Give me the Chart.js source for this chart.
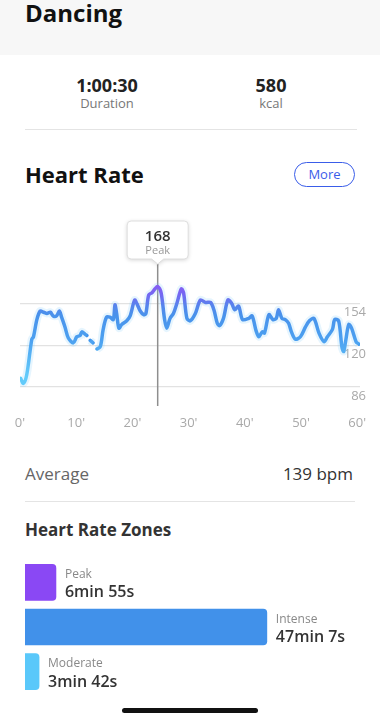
<!DOCTYPE html>
<html>
<head>
<meta charset="utf-8">
<script src="https://cdn.jsdelivr.net/npm/chart.js@4.4.1/dist/chart.umd.min.js"></script>
<style>
  body { margin: 0; width: 380px; height: 720px; position: relative; overflow: hidden; background: #fff; font-family: "Open Sans", sans-serif; color: #222; }
  .t { position: absolute; line-height: 1; white-space: nowrap; }
  .c { width: 200px; text-align: center; }
  .head { position: absolute; left: 0; top: 0; width: 380px; height: 55px; background: #f7f7f7; }
  .rule { position: absolute; height: 1px; background: #e4e4e4; }
  .more { position: absolute; left: 294px; top: 162px; width: 59px; height: 23px; border: 1.3px solid #3a5de9; border-radius: 13px; color: #3a5de9; font-size: 13px; line-height: 23px; text-align: center; }
  .home { position: absolute; left: 122px; top: 708px; width: 136px; height: 5px; border-radius: 3px; background: #111; }
  #hr { position: absolute; left: 0; top: 200px; }
  #zones { position: absolute; left: 0; top: 560px; }
</style>
</head>
<body>
<div class="head"></div>
<div class="t" style="left:25px;top:1px;font-size:24px;font-weight:700;color:#111">Dancing</div>

<div class="t c" style="left:7px;top:76px;font-size:18px;font-weight:700;color:#222">1:00:30</div>
<div class="t c" style="left:7px;top:97px;font-size:13px;color:#777">Duration</div>
<div class="t c" style="left:171px;top:76px;font-size:18px;font-weight:700;color:#222">580</div>
<div class="t c" style="left:171px;top:97px;font-size:13px;color:#777">kcal</div>
<div class="rule" style="left:25px;top:129px;width:332px"></div>

<div class="t" style="left:25px;top:163px;font-size:22px;font-weight:700;color:#111">Heart Rate</div>
<div class="more">More</div>

<canvas id="hr" width="380" height="230"></canvas>

<div class="t" style="left:25px;top:465px;font-size:17px;color:#666">Average</div>
<div class="t" style="right:27px;top:465px;font-size:17px;color:#333">139 bpm</div>
<div class="rule" style="left:25px;top:501px;width:330px"></div>
<div class="t" style="left:25px;top:521px;font-size:17px;font-weight:700;color:#333">Heart Rate Zones</div>

<canvas id="zones" width="380" height="134"></canvas>
<div class="home"></div>

<script>
// heart rate over the session (minutes, bpm); null = sensor gap
const minutes = [0.1, 0.6, 1.2, 2.1, 2.4, 3.0, 3.6, 4.2, 4.8, 5.4,
  5.9, 6.5, 7.0, 7.4, 8.0, 8.6, 9.5, 10.1, 10.7, 11.0,
  11.6, 11.9, 12.2, 12.5, 13.0, 13.4, 13.7, 14.3, 14.8, 15.4,
  16.0, 16.6, 16.9, 17.2, 17.6, 18.1, 19.0, 19.6, 20.4, 20.8,
  21.4, 22.0, 22.4, 22.9, 23.5, 24.0, 24.5, 25.1, 25.7, 26.1,
  26.7, 27.3, 27.9, 28.7, 29.1, 29.7, 30.3, 31.2, 32.1, 33.0,
  33.9, 34.5, 35.1, 35.5, 36.2, 37.0, 37.7, 38.2, 38.9, 39.6,
  40.7, 41.3, 42.0, 42.5, 43.1, 43.5, 44.3, 45.0, 45.6, 46.0,
  46.6, 47.2, 47.8, 48.3, 49.0, 49.9, 50.8, 51.5, 52.3, 53.2,
  54.1, 54.7, 55.6, 56.0, 56.7, 57.3, 57.6, 58.0, 58.5, 59.0,
  59.8, 60.3];
const bpm = [93, 89, 96, 125, 127, 141, 148, 147, 146, 147,
  144, 144, 148, 143, 135, 126, 122, 127, 128, 131,
  129, 128, null, 124, 122, null, 117, 119, 133, 143,
  143, 141, 153, 146, 134, 137, 140, 144, 157, 154,
  148, 145, 146, 161, 163, 166, 168, 163, 142, 134,
  142, 146, 154, 166, 163, 142, 140, 146, 157, 155,
  155, 149, 138, 136, 142, 157, 154, 149, 152, 141,
  142, 144, 132, 127, 131, 130, 145, 141, 142, 149,
  142, 141, 138, 131, 125, 127, 135, 140, 142, 130,
  123, 127, 133, 141, 140, 118, 115, 125, 137, 134,
  123, 121];
const xTicks = [0, 10, 20, 30, 40, 50, 60];
const yTicks = [86, 120, 154];
const peakLabel = "Peak";

// time in each zone (seconds)
const zoneNames = ["Peak", "Intense", "Moderate"];
const zoneSeconds = [415, 2827, 222];
const zoneColors = ["#8a48f4", "#4191ea", "#5ac8fa"];

const points = minutes.map((m, i) => ({ x: m, y: bpm[i] }));
const FONT = '"Open Sans", sans-serif';

function lineGradient(c) {
  const chart = c.chart;
  if (!chart.chartArea) return "#3d8be8";
  const y = chart.scales.y;
  const g = chart.ctx.createLinearGradient(0, y.getPixelForValue(170), 0, y.getPixelForValue(95));
  g.addColorStop(0, "#8b3ff3");
  g.addColorStop(0.12, "#7050f0");
  g.addColorStop(0.24, "#4a74e9");
  g.addColorStop(0.34, "#3a84e8");
  g.addColorStop(0.6, "#3f95ee");
  g.addColorStop(1, "#5ccbfb");
  return g;
}

function peakIndex() {
  const vals = bpm.filter(v => v !== null);
  return bpm.indexOf(Math.max(...vals));
}

const peakMarker = {
  id: "peakMarker",
  beforeDatasetsDraw(chart) {
    const x = chart.scales.x.getPixelForValue(minutes[peakIndex()]);
    const ctx = chart.ctx;
    ctx.save();
    ctx.strokeStyle = "#8e8e8e";
    ctx.lineWidth = 1.5;
    ctx.beginPath();
    ctx.moveTo(x, chart.chartArea.top + 2);
    ctx.lineTo(x, chart.chartArea.bottom + 19);
    ctx.stroke();
    ctx.restore();
  },
  afterDatasetsDraw(chart) {
    const i = peakIndex();
    const x = chart.scales.x.getPixelForValue(minutes[i]);
    const top = chart.chartArea.top;
    const ctx = chart.ctx;
    const w = 61, bTop = top - 41, bBot = top - 3, r = 4;
    const l = x - w / 2, rt = x + w / 2;
    ctx.save();
    ctx.beginPath();
    ctx.moveTo(l + r, bTop);
    ctx.lineTo(rt - r, bTop);
    ctx.quadraticCurveTo(rt, bTop, rt, bTop + r);
    ctx.lineTo(rt, bBot - r);
    ctx.quadraticCurveTo(rt, bBot, rt - r, bBot);
    ctx.lineTo(x + 6, bBot);
    ctx.lineTo(x, bBot + 5);
    ctx.lineTo(x - 6, bBot);
    ctx.lineTo(l + r, bBot);
    ctx.quadraticCurveTo(l, bBot, l, bBot - r);
    ctx.lineTo(l, bTop + r);
    ctx.quadraticCurveTo(l, bTop, l + r, bTop);
    ctx.closePath();
    ctx.shadowColor = "rgba(0,0,0,0.18)";
    ctx.shadowBlur = 4;
    ctx.shadowOffsetY = 1;
    ctx.fillStyle = "#fff";
    ctx.fill();
    ctx.shadowColor = "transparent";
    ctx.strokeStyle = "#dedede";
    ctx.lineWidth = 1;
    ctx.stroke();
    ctx.textAlign = "center";
    ctx.textBaseline = "alphabetic";
    ctx.fillStyle = "#333";
    ctx.font = "600 15px " + FONT;
    ctx.fillText(String(bpm[i]), x, bTop + 20);
    ctx.fillStyle = "#999";
    ctx.font = "11px " + FONT;
    ctx.fillText(peakLabel, x, bTop + 33);
    ctx.restore();
  }
};

new Chart(document.getElementById("hr"), {
  type: "line",
  data: {
    datasets: [
      { data: points, borderColor: "rgba(130,205,250,0.2)", borderWidth: 8, pointRadius: 0, tension: 0.3, spanGaps: false },
      { data: points, borderColor: lineGradient, borderWidth: 3.5, pointRadius: 0, tension: 0.3, spanGaps: false,
        borderCapStyle: "round", borderJoinStyle: "round" }
    ]
  },
  options: {
    responsive: false,
    animation: false,
    layout: { padding: { top: 62, left: 20, right: 14, bottom: 0 } },
    plugins: { legend: { display: false }, tooltip: { enabled: false } },
    scales: {
      x: {
        type: "linear",
        min: 0,
        max: 60.5,
        afterBuildTicks: s => { s.ticks = xTicks.map(v => ({ value: v })); },
        afterFit: s => { s.height = 43; s.paddingLeft = 0; s.paddingRight = 0; },
        grid: { display: false },
        border: { display: false },
        ticks: { callback: v => v + "'", color: "#a9a9a9", font: { size: 13, family: FONT }, padding: 20, maxRotation: 0, autoSkip: false }
      },
      y: {
        position: "right",
        min: 86,
        max: 188,
        afterBuildTicks: s => { s.ticks = yTicks.map(v => ({ value: v })); },
        afterFit: s => { s.width = 6; s.paddingTop = 0; s.paddingBottom = 0; },
        grid: { color: "#e2e2e2", lineWidth: 1.2, drawTicks: false },
        border: { display: false },
        ticks: { color: "#a9a9a9", font: { size: 13, family: FONT }, mirror: true, crossAlign: "near", padding: 6, labelOffset: 9 }
      }
    }
  },
  plugins: [peakMarker]
});

function fmtDuration(s) {
  return Math.floor(s / 60) + "min " + (s % 60) + "s";
}

const zoneLabels = {
  id: "zoneLabels",
  afterDatasetsDraw(chart) {
    const ctx = chart.ctx;
    const meta = chart.getDatasetMeta(0);
    ctx.save();
    ctx.textAlign = "left";
    ctx.textBaseline = "alphabetic";
    meta.data.forEach((bar, i) => {
      const p = bar.getProps(["x", "y", "height"], true);
      const top = p.y - p.height / 2;
      ctx.fillStyle = "#888";
      ctx.font = "12px " + FONT;
      ctx.fillText(zoneNames[i], p.x + 9, top + 13.5);
      ctx.fillStyle = "#333";
      ctx.font = "600 16px " + FONT;
      ctx.fillText(fmtDuration(zoneSeconds[i]), p.x + 9, top + 33);
    });
    ctx.restore();
  }
};

new Chart(document.getElementById("zones"), {
  type: "bar",
  data: {
    labels: zoneNames,
    datasets: [{ data: zoneSeconds, backgroundColor: zoneColors, barThickness: 36, borderRadius: 4, borderSkipped: "start" }]
  },
  options: {
    indexAxis: "y",
    responsive: false,
    animation: false,
    layout: { padding: { left: 25, right: 25, top: 0, bottom: 0 } },
    plugins: { legend: { display: false }, tooltip: { enabled: false } },
    scales: {
      x: { display: false, min: 61, max: 3835 },
      y: { display: false }
    }
  },
  plugins: [zoneLabels]
});
</script>
</body>
</html>
